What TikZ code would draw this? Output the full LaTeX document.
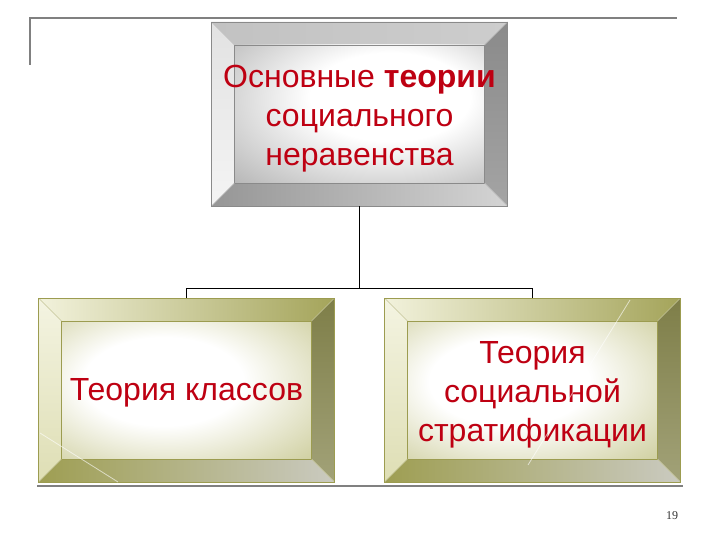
\documentclass[tikz,border=0pt]{standalone}
\usepackage{fontspec}
\setmainfont{Liberation Sans}
\newfontfamily\numfont{Liberation Serif}
\usepackage{xcolor}
\usetikzlibrary{calc}
\definecolor{textred}{HTML}{BE0012}
\definecolor{frameline}{HTML}{808080}
% grey box
\definecolor{greyTopL}{HTML}{C2C2C2}
\definecolor{greyTopM}{HTML}{F2F2F2}
\definecolor{greyTopR}{HTML}{CDCDCD}
\definecolor{greyLeftT}{HTML}{E2E2E2}
\definecolor{greyLeftB}{HTML}{F4F4F4}
\definecolor{greyRightT}{HTML}{8A8A8A}
\definecolor{greyRightB}{HTML}{A4A4A4}
\definecolor{greyBotL}{HTML}{969696}
\definecolor{greyBotM}{HTML}{B4B4B4}
\definecolor{greyBotR}{HTML}{D4D4D4}
\definecolor{greyEdge}{HTML}{A6A6A6}
\definecolor{greyLine}{HTML}{8A8A8A}
% olive boxes
\definecolor{oliveTopL}{HTML}{F2F2DC}
\definecolor{oliveTopM}{HTML}{D8D8AC}
\definecolor{oliveTopR}{HTML}{A4A45A}
\definecolor{oliveLeftT}{HTML}{F4F4E2}
\definecolor{oliveLeftB}{HTML}{DEDEB4}
\definecolor{oliveRightT}{HTML}{7E7E48}
\definecolor{oliveRightB}{HTML}{A2A278}
\definecolor{oliveBotL}{HTML}{9E9E52}
\definecolor{oliveBotM}{HTML}{B4B48A}
\definecolor{oliveBotR}{HTML}{CACAC0}
\definecolor{oliveEdge}{HTML}{C0C082}
\definecolor{oliveLine}{HTML}{9C9C50}
\pgfdeclareradialshading{greyglow}{\pgfpoint{8bp}{8bp}}{color(0bp)=(white); color(16bp)=(white); color(46bp)=(greyEdge); color(70bp)=(greyEdge)}
\pgfdeclareradialshading{oliveglow}{\pgfpoint{-6bp}{4bp}}{color(0bp)=(white); color(16bp)=(white); color(46bp)=(oliveEdge); color(70bp)=(oliveEdge)}

\newcommand\bevelparts[1]{%
  \coordinate (bsw) at (path picture bounding box.south west);
  \coordinate (bse) at (path picture bounding box.south east);
  \coordinate (bnw) at (path picture bounding box.north west);
  \coordinate (bne) at (path picture bounding box.north east);
  \coordinate (isw) at ($(bsw)+(23pt,23pt)$);
  \coordinate (ise) at ($(bse)+(-23pt,23pt)$);
  \coordinate (inw) at ($(bnw)+(23pt,-23pt)$);
  \coordinate (ine) at ($(bne)+(-23pt,-23pt)$);
  \shade[left color=#1TopL, middle color=#1TopM, right color=#1TopR] (bnw) -- (bne) -- (ine) -- (inw) -- cycle;
  \shade[top color=#1LeftT, bottom color=#1LeftB] (bnw) -- (inw) -- (isw) -- (bsw) -- cycle;
  \shade[top color=#1RightT, bottom color=#1RightB] (bne) -- (ine) -- (ise) -- (bse) -- cycle;
  \shade[left color=#1BotL, middle color=#1BotM, right color=#1BotR] (bsw) -- (bse) -- (ise) -- (isw) -- cycle;
  \shade[shading=#1glow] (isw) rectangle (ine);
  \draw[#1Line, line width=0.5pt] (isw) rectangle (ine);
  \draw[#1Line!60, line width=0.4pt] (bnw) -- (inw) (bne) -- (ine) (bsw) -- (isw) (bse) -- (ise);
}
\newcommand\lift[1]{\rule{0pt}{#1}}

\tikzset{
  bevelbox/.style={draw=#1Line, line width=0.6pt, inner sep=0pt,
    minimum width=296pt, minimum height=184pt,
    text=textred, align=center, font=\fontsize{32}{39}\selectfont,
    path picture={\bevelparts{#1}}},
  connector/.style={draw=black, line width=1pt},
  rule/.style={draw=frameline, line width=2pt},
  glint/.style={draw=white, line width=0.8pt, opacity=0.6}
}

\begin{document}
\begin{tikzpicture}[x=1pt,y=-1pt]
    \useasboundingbox (0,0) rectangle (720,540);
    \draw[rule] (30,65) -- (30,18) -- (677,18);
    \draw[rule] (37,486) -- (683,486);

    \node[bevelbox=grey] (theories) at (359.5,114) {\lift{32pt}Основные \textbf{теории}\\социального\\неравенства};
    \node[bevelbox=olive] (classes) at (186.5,390) {\lift{27pt}Теория классов};
    \node[bevelbox=olive] (strat) at (532.5,390) {\lift{32pt}Теория\\социальной\\стратификации};

    \coordinate (split) at ($(theories.south)+(0,82)$);
    \draw[connector] (theories.south) -- (split) -| (classes.north);
    \draw[connector] (split) -| (strat.north);

    \draw[glint] (40,433) -- (118,482);
    \draw[glint] (630,300) -- (528,465);

    \node[font=\numfont\fontsize{12}{14}\selectfont, text=black!80] (page) at (672,516) {19};
\end{tikzpicture}
\end{document}
